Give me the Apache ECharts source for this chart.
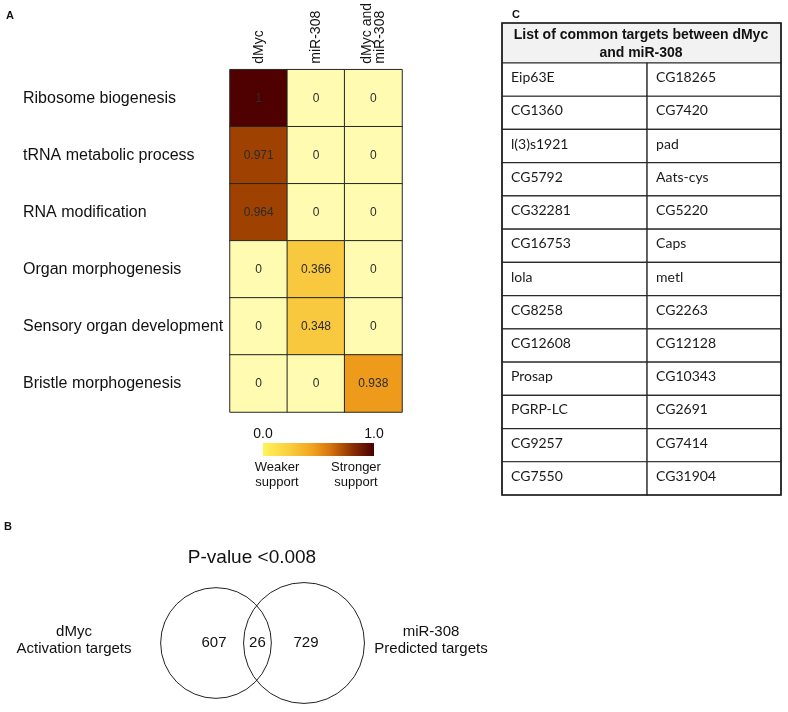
<!DOCTYPE html>
<html><head><meta charset="utf-8">
<script src="https://cdn.jsdelivr.net/npm/echarts@6/dist/echarts.min.js"></script>
<style>html,body{margin:0;padding:0;background:#fff}#main{width:788px;height:712px}</style>
</head><body><div id="main"></div>
<script>
// ---------- data ----------
const processes = ['Ribosome biogenesis','tRNA metabolic process','RNA modification','Organ morphogenesis','Sensory organ development','Bristle morphogenesis'];
const conditions = ['dMyc','miR-308','dMyc and\nmiR-308'];
const dMycSupport = [1, 0.971, 0.964, 0, 0, 0];
const mir308Support = [0, 0, 0, 0.366, 0.348, 0];
const bothSupport = [0, 0, 0, 0, 0, 0.938];
const colorbarTicks = ['0.0', '1.0'];
const colorbarNotes = ['Weaker\nsupport', 'Stronger\nsupport'];

const tableTitle = 'List of common targets between dMyc\nand miR-308';
const targetsCol1 = ['Eip63E','CG1360','l(3)s1921','CG5792','CG32281','CG16753','lola','CG8258','CG12608','Prosap','PGRP-LC','CG9257','CG7550'];
const targetsCol2 = ['CG18265','CG7420','pad','Aats-cys','CG5220','Caps','metl','CG2263','CG12128','CG10343','CG2691','CG7414','CG31904'];

const vennSetNames = ['dMyc\nActivation targets', 'miR-308\nPredicted targets'];
const vennOnlyCounts = [607, 729];
const vennShared = 26;
const pValueText = 'P-value <0.008';

// ---------- build ----------
const FONT = '"Liberation Sans", Arial, sans-serif';
const supportCols = [dMycSupport, mir308Support, bothSupport];
const heatData = [];
supportCols.forEach((col, c) => col.forEach((v, r) => heatData.push([c, r, v])));

const tableData = [];
targetsCol1.forEach((_, r) => { tableData.push([0, r]); tableData.push([1, r]); });
const tableRows = targetsCol1.map((_, i) => String(i));

const vennTotals = vennOnlyCounts.map(n => n + vennShared);
const vennData = vennTotals.map((t, i) => [i, t]);
const VENN_DIST = 40; // distance between circle centres (in sqrt-count units)

const chart = echarts.init(document.getElementById('main'), null, {renderer: 'canvas'});
chart.setOption({
  animation: false,
  backgroundColor: '#fff',
  textStyle: {fontFamily: FONT},
  grid: [
    {left: 230, top: 67, width: 172, height: 345},
    {left: 502, top: 63, width: 279, height: 432},
    {left: 150, top: 577, width: 220, height: 132}
  ],
  xAxis: [
    {gridIndex: 0, type: 'category', position: 'top', data: conditions,
     axisLine: {show: false}, axisTick: {show: false}, splitLine: {show: false},
     axisLabel: {rotate: -90, margin: 6, fontSize: 14, color: '#111', fontFamily: FONT, lineHeight: 13}},
    {gridIndex: 1, type: 'value', min: 0, max: 1, show: false},
    {gridIndex: 2, type: 'value', min: -30, max: 70, show: false}
  ],
  yAxis: [
    {gridIndex: 0, type: 'category', inverse: true, data: processes,
     axisLine: {show: false}, axisTick: {show: false}, splitLine: {show: false},
     axisLabel: {align: 'left', margin: 207, fontSize: 16, color: '#111', fontFamily: FONT}},
    {gridIndex: 1, type: 'category', inverse: true, data: tableRows, show: false},
    {gridIndex: 2, type: 'value', min: -30, max: 30, show: false}
  ],
  visualMap: {
    type: 'piecewise', show: false, seriesIndex: 0, dimension: 2,
    pieces: [
      {min: -0.01, max: 0.05, color: '#FFFCB1'},
      {min: 0.05, max: 0.6, color: '#F8C83F'},
      {min: 0.6, max: 0.95, color: '#EE9B1C'},
      {min: 0.95, max: 0.99, color: '#9F4201'},
      {min: 0.99, max: 1.01, color: '#4F0000'}
    ]
  },
  series: [
    {
      type: 'heatmap', xAxisIndex: 0, yAxisIndex: 0, data: heatData,
      itemStyle: {borderColor: '#262626', borderWidth: 1},
      label: {show: true, fontSize: 12, color: '#2b2b2b', fontFamily: FONT,
              formatter: p => String(p.value[2])},
      emphasis: {disabled: true}
    },
    {
      type: 'custom', xAxisIndex: 1, yAxisIndex: 1, data: tableData,
      encode: {x: 0, y: 1},
      renderItem: function (params, api) {
        const edges = [0, 0.52, 1];
        const c = api.value(0), r = api.value(1);
        const yc = api.coord([0, r])[1];
        const h = api.size([0, 1])[1];
        const x0 = api.coord([edges[c], r])[0];
        const x1 = api.coord([edges[c + 1], r])[0];
        const name = c === 0 ? targetsCol1[r] : targetsCol2[r];
        return {type: 'group', children: [
          {type: 'rect', shape: {x: x0, y: yc - h / 2, width: x1 - x0, height: h},
           style: {fill: '#fff', stroke: '#2a2a2a', lineWidth: 1.2}},
          {type: 'text', style: {text: name, x: x0 + 9, y: yc - 2, align: 'left', verticalAlign: 'middle',
           font: '14px Lato, "Open Sans", sans-serif', fill: '#1a1a1a'}}
        ]};
      }
    },
    {
      type: 'custom', xAxisIndex: 2, yAxisIndex: 2, data: vennData,
      encode: {x: 0, y: 1},
      renderItem: function (params, api) {
        const i = params.dataIndex;
        const rUnits = vennTotals.map(t => Math.sqrt(t));
        const cxUnits = i === 0 ? 0 : VENN_DIST;
        const ctr = api.coord([cxUnits, 0]);
        const rpx = api.size([rUnits[i], 0])[0];
        const children = [
          {type: 'circle', shape: {cx: ctr[0], cy: ctr[1], r: rpx},
           style: {fill: 'none', stroke: '#222', lineWidth: 1}},
          {type: 'text', style: {text: String(vennOnlyCounts[i]), x: ctr[0] + (i === 0 ? -2 : 2), y: ctr[1],
           align: 'center', verticalAlign: 'middle', font: '15px ' + FONT, fill: '#111'}}
        ];
        if (i === 1) {
          const lensMid = ((VENN_DIST - rUnits[1]) + rUnits[0]) / 2;
          const p = api.coord([lensMid, 0]);
          children.push({type: 'text', style: {text: String(vennShared), x: p[0], y: p[1],
            align: 'center', verticalAlign: 'middle', font: '15px ' + FONT, fill: '#111'}});
        }
        return {type: 'group', children: children};
      }
    }
  ],
  graphic: [
    // panel letters
    {type: 'text', left: 6, top: 10, style: {text: 'A', font: 'bold 11px ' + FONT, fill: '#111'}},
    {type: 'text', left: 4, top: 521, style: {text: 'B', font: 'bold 11px ' + FONT, fill: '#111'}},
    {type: 'text', left: 512, top: 9, style: {text: 'C', font: 'bold 11px ' + FONT, fill: '#111'}},
    // colour bar
    {type: 'rect', shape: {x: 263, y: 443, width: 111, height: 13},
     style: {fill: new echarts.graphic.LinearGradient(0, 0, 1, 0, [
       {offset: 0, color: '#FFF45A'}, {offset: 0.25, color: '#F9CB3A'},
       {offset: 0.45, color: '#F0A21F'}, {offset: 0.6, color: '#D8760E'},
       {offset: 0.8, color: '#8E3203'}, {offset: 1, color: '#480000'}])}},
    {type: 'text', x: 263, y: 434, style: {text: colorbarTicks[0], align: 'center', verticalAlign: 'middle', font: '14px ' + FONT, fill: '#111'}},
    {type: 'text', x: 374, y: 434, style: {text: colorbarTicks[1], align: 'center', verticalAlign: 'middle', font: '14px ' + FONT, fill: '#111'}},
    {type: 'text', x: 277, y: 460, style: {text: colorbarNotes[0], align: 'center', verticalAlign: 'top', font: '13px ' + FONT, lineHeight: 15, fill: '#111'}},
    {type: 'text', x: 356, y: 460, style: {text: colorbarNotes[1], align: 'center', verticalAlign: 'top', font: '13px ' + FONT, lineHeight: 15, fill: '#111'}},
    // table header + frame
    {type: 'rect', shape: {x: 502, y: 23, width: 279, height: 40}, style: {fill: '#F2F2F2', stroke: '#2a2a2a', lineWidth: 1.2}},
    {type: 'text', x: 641, y: 44, style: {text: tableTitle, align: 'center', verticalAlign: 'middle', font: 'bold 14px ' + FONT, lineHeight: 18, fill: '#111'}},
    {type: 'rect', z: 100, shape: {x: 502, y: 23, width: 279, height: 472}, style: {fill: 'none', stroke: '#222', lineWidth: 1.6}},
    // venn labels
    {type: 'text', x: 252, y: 558, style: {text: pValueText, align: 'center', verticalAlign: 'middle', font: '19px ' + FONT, fill: '#111'}},
    {type: 'text', x: 74, y: 640, style: {text: vennSetNames[0], align: 'center', verticalAlign: 'middle', font: '15px ' + FONT, lineHeight: 17, fill: '#111'}},
    {type: 'text', x: 431, y: 640, style: {text: vennSetNames[1], align: 'center', verticalAlign: 'middle', font: '15px ' + FONT, lineHeight: 17, fill: '#111'}}
  ]
});
</script></body></html>
